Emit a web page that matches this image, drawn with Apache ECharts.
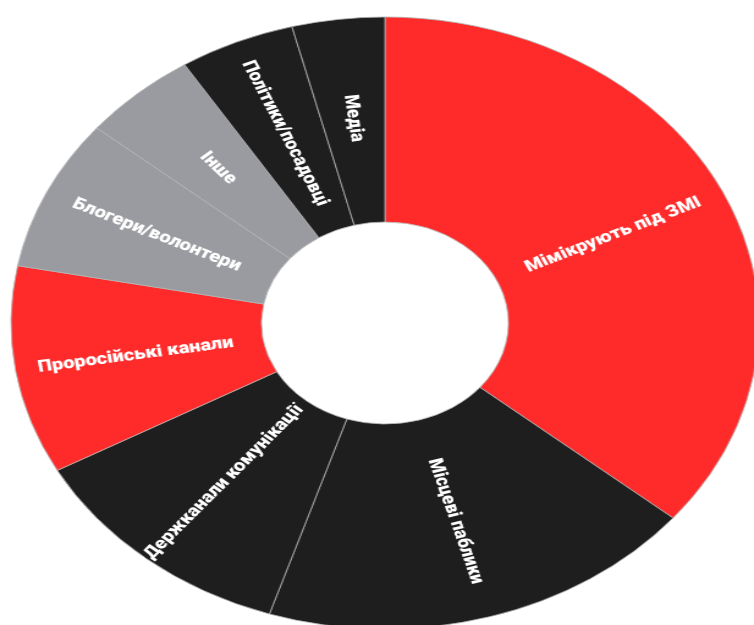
<!DOCTYPE html>
<html>
<head>
<meta charset="utf-8">
<script src="https://cdn.jsdelivr.net/npm/echarts@6/dist/echarts.min.js"></script>
<style>
  html, body { margin: 0; padding: 0; background: #ffffff; overflow: hidden; }
  #chart { width: 617px; height: 625px; transform: scaleX(1.222); transform-origin: 0 0; }
</style>
</head>
<body>
<div id="chart"></div>
<script>
const categories = [
  'Мімікрують під ЗМІ',
  'Місцеві паблики',
  'Держканали комунікації',
  'Проросійські канали',
  'Блогери/волонтери',
  'Інше',
  'Політики/посадовці',
  'Медіа'
];
const values = [36, 19, 12, 11, 8, 5, 5, 4];
const palette = ['#ff2b2b', '#1e1e1e', '#1e1e1e', '#ff2b2b', '#9a9ba0', '#9a9ba0', '#1e1e1e', '#1e1e1e'];

const chart = echarts.init(document.getElementById('chart'), null, { renderer: 'canvas' });
chart.setOption({
  animation: false,
  backgroundColor: '#ffffff',
  color: palette,
  series: [{
    type: 'pie',
    center: [315, 323],
    radius: [101, 306],
    startAngle: 90,
    clockwise: true,
    avoidLabelOverlap: false,
    itemStyle: { borderColor: '#b4b4b4', borderWidth: 0.8 },
    label: {
      show: true,
      position: 'inside',
      rotate: 'radial',
      color: '#ffffff',
      fontFamily: 'Roboto',
      fontWeight: 900,
      fontSize: 16.5,
      formatter: '{b}'
    },
    labelLine: { show: false },
    emphasis: { disabled: true },
    data: categories.map((c, i) => ({ name: c, value: values[i] }))
  }]
});
</script>
</body>
</html>
